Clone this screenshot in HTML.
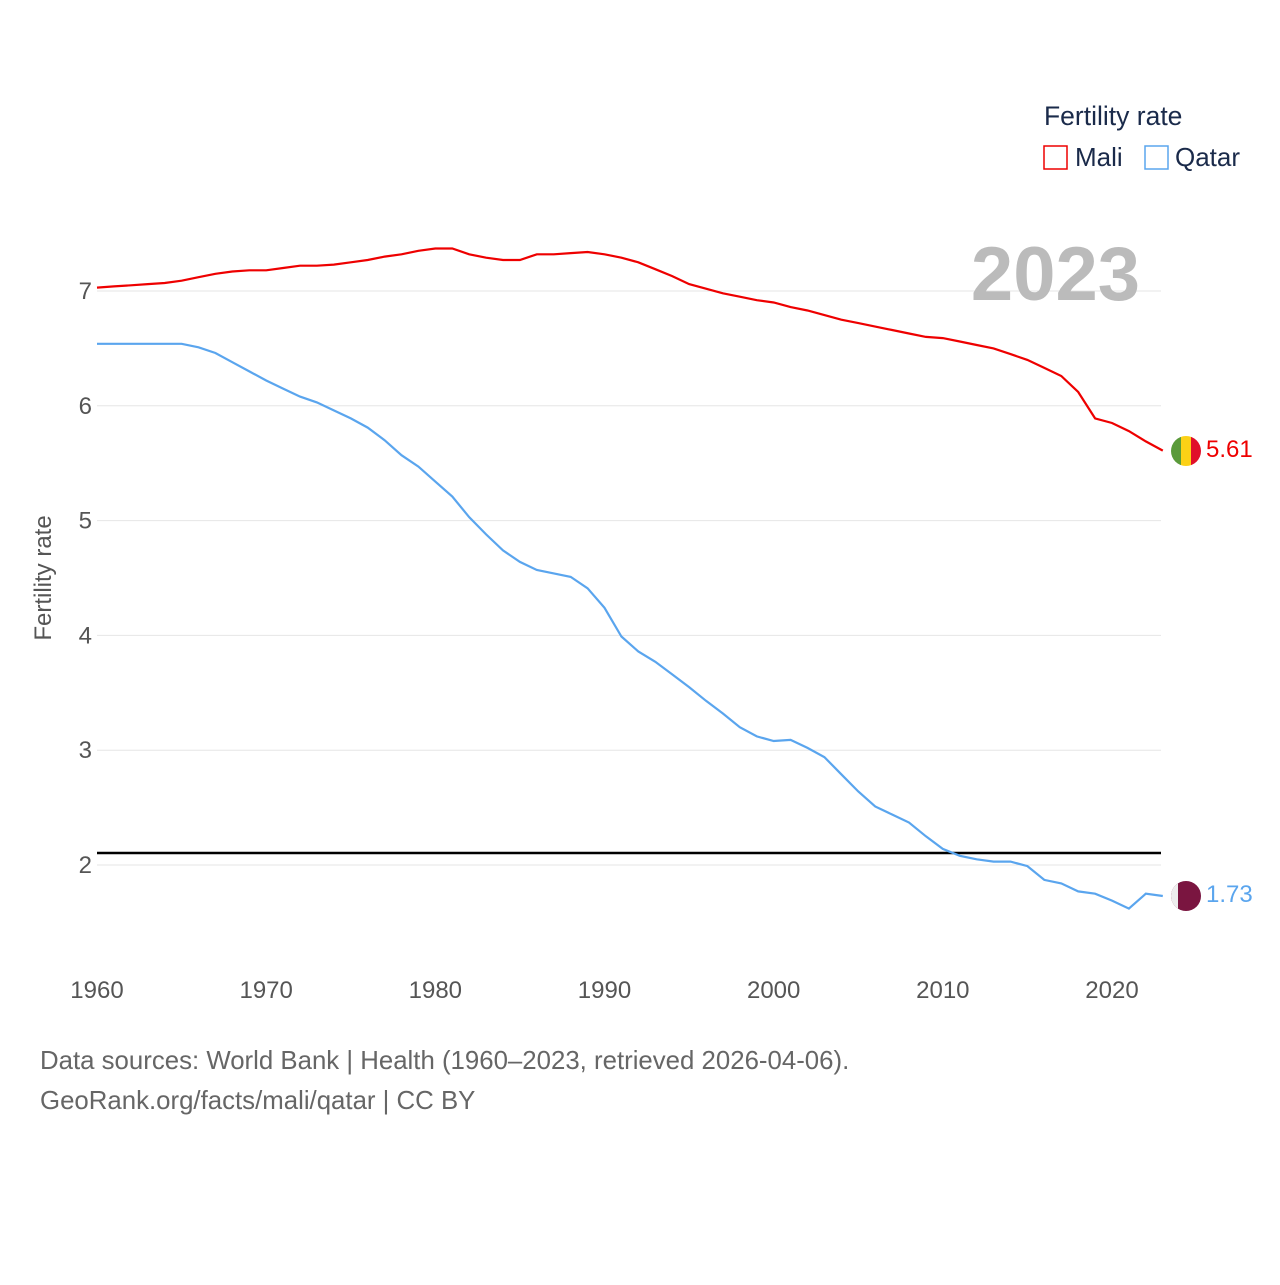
<!DOCTYPE html>
<html><head><meta charset="utf-8"><style>
body{margin:0;background:#fff;font-family:"Liberation Sans",sans-serif}
</style></head><body>
<svg id="chart" width="1280" height="1280" xmlns="http://www.w3.org/2000/svg" font-family="Liberation Sans, sans-serif">
<rect width="1280" height="1280" fill="#fff"/>
<g id="grid"></g><g id="yt"></g><g id="xt"></g>
<line x1="97" x2="1161" y1="853" y2="853" stroke="#000" stroke-width="2.5"/>
<g id="lines"></g>
<text transform="translate(51,578) rotate(-90)" text-anchor="middle" font-size="24" fill="#555">Fertility rate</text>
<text x="1140" y="300" text-anchor="end" font-size="76" font-weight="bold" fill="#bbb">2023</text>
<text x="1044" y="125" font-size="26.5" fill="#1a2a4a">Fertility rate</text>
<g><rect x="1044" y="146" width="23" height="23" fill="none" stroke="#e00" stroke-width="1.5"/><text x="1075" y="166" font-size="26" fill="#1a2a4a">Mali</text></g>
<g><rect x="1145" y="146" width="23" height="23" fill="none" stroke="#5aa5ee" stroke-width="1.5"/><text x="1175" y="166" font-size="26" fill="#1a2a4a">Qatar</text></g>
<g><clipPath id="c1"><circle cx="1186" cy="451" r="15"/></clipPath><g clip-path="url(#c1)"><rect x="1171" y="436" width="10" height="30" fill="#5a9a3a"/><rect x="1181" y="436" width="10" height="30" fill="#fcd116"/><rect x="1191" y="436" width="10" height="30" fill="#e0102a"/></g></g>
<g><clipPath id="c2"><circle cx="1186" cy="896" r="15"/></clipPath><g clip-path="url(#c2)"><rect x="1171" y="881" width="30" height="30" fill="#7a1540"/><rect x="1171" y="881" width="7" height="30" fill="#eee"/></g></g>
<text x="1206" y="457" font-size="24" fill="#e00">5.61</text>
<text x="1206" y="902" font-size="24" fill="#5aa5ee">1.73</text>
<text x="40" y="1069" font-size="25.8" fill="#666">Data sources: World Bank | Health (1960–2023, retrieved 2026-04-06).</text>
<text x="40" y="1109" font-size="25.8" fill="#666">GeoRank.org/facts/mali/qatar | CC BY</text>
</svg>
<script>
const years=[];for(let y=1960;y<=2023;y++)years.push(y);
const mali=[7.03,7.04,7.05,7.06,7.07,7.09,7.12,7.15,7.17,7.18,7.18,7.20,7.22,7.22,7.23,7.25,7.27,7.30,7.32,7.35,7.37,7.37,7.32,7.29,7.27,7.27,7.32,7.32,7.33,7.34,7.32,7.29,7.25,7.19,7.13,7.06,7.02,6.98,6.95,6.92,6.90,6.86,6.83,6.79,6.75,6.72,6.69,6.66,6.63,6.60,6.59,6.56,6.53,6.50,6.45,6.40,6.33,6.26,6.12,5.89,5.85,5.78,5.69,5.61];
const qatar=[6.54,6.54,6.54,6.54,6.54,6.54,6.51,6.46,6.38,6.30,6.22,6.15,6.08,6.03,5.96,5.89,5.81,5.70,5.57,5.47,5.34,5.21,5.03,4.88,4.74,4.64,4.57,4.54,4.51,4.41,4.24,3.99,3.86,3.77,3.66,3.55,3.43,3.32,3.20,3.12,3.08,3.09,3.02,2.94,2.79,2.64,2.51,2.44,2.37,2.25,2.14,2.08,2.05,2.03,2.03,1.99,1.87,1.84,1.77,1.75,1.69,1.62,1.75,1.73];
const yTicks=[2,3,4,5,6,7];
const xTicks=[1960,1970,1980,1990,2000,2010,2020];
const X=y=>97+(y-1960)*(1112-97)/60;
const Y=v=>291+(7-v)*114.8;
const NS="http://www.w3.org/2000/svg";
function mk(t,a,p){const e=document.createElementNS(NS,t);for(const k in a)e.setAttribute(k,a[k]);document.getElementById(p).appendChild(e);return e;}
yTicks.forEach(v=>{
 const l=mk('line',{x1:97,x2:1161,y1:Y(v),y2:Y(v),stroke:'#e6e6e6','stroke-width':1},'grid');
 
 
 const t=mk('text',{x:92,y:Y(v)+8,'text-anchor':'end','font-size':24,fill:'#555'},'yt');t.textContent=v;
 
 
});
xTicks.forEach(v=>{
 const t=mk('text',{x:X(v),y:998,'text-anchor':'middle','font-size':24,fill:'#555'},'xt');t.textContent=v;
 
 
});
function line(d,c,n){
 const p=mk('path',{d:d.map((v,i)=>(i?'L':'M')+X(years[i]).toFixed(1)+','+Y(v).toFixed(1)).join(''),fill:'none',stroke:c,'stroke-width':2.2},'lines');
 
 
}
line(mali,'#e00','mali-line');
line(qatar,'#5aa5ee','qatar-line');
</script>
</body></html>
